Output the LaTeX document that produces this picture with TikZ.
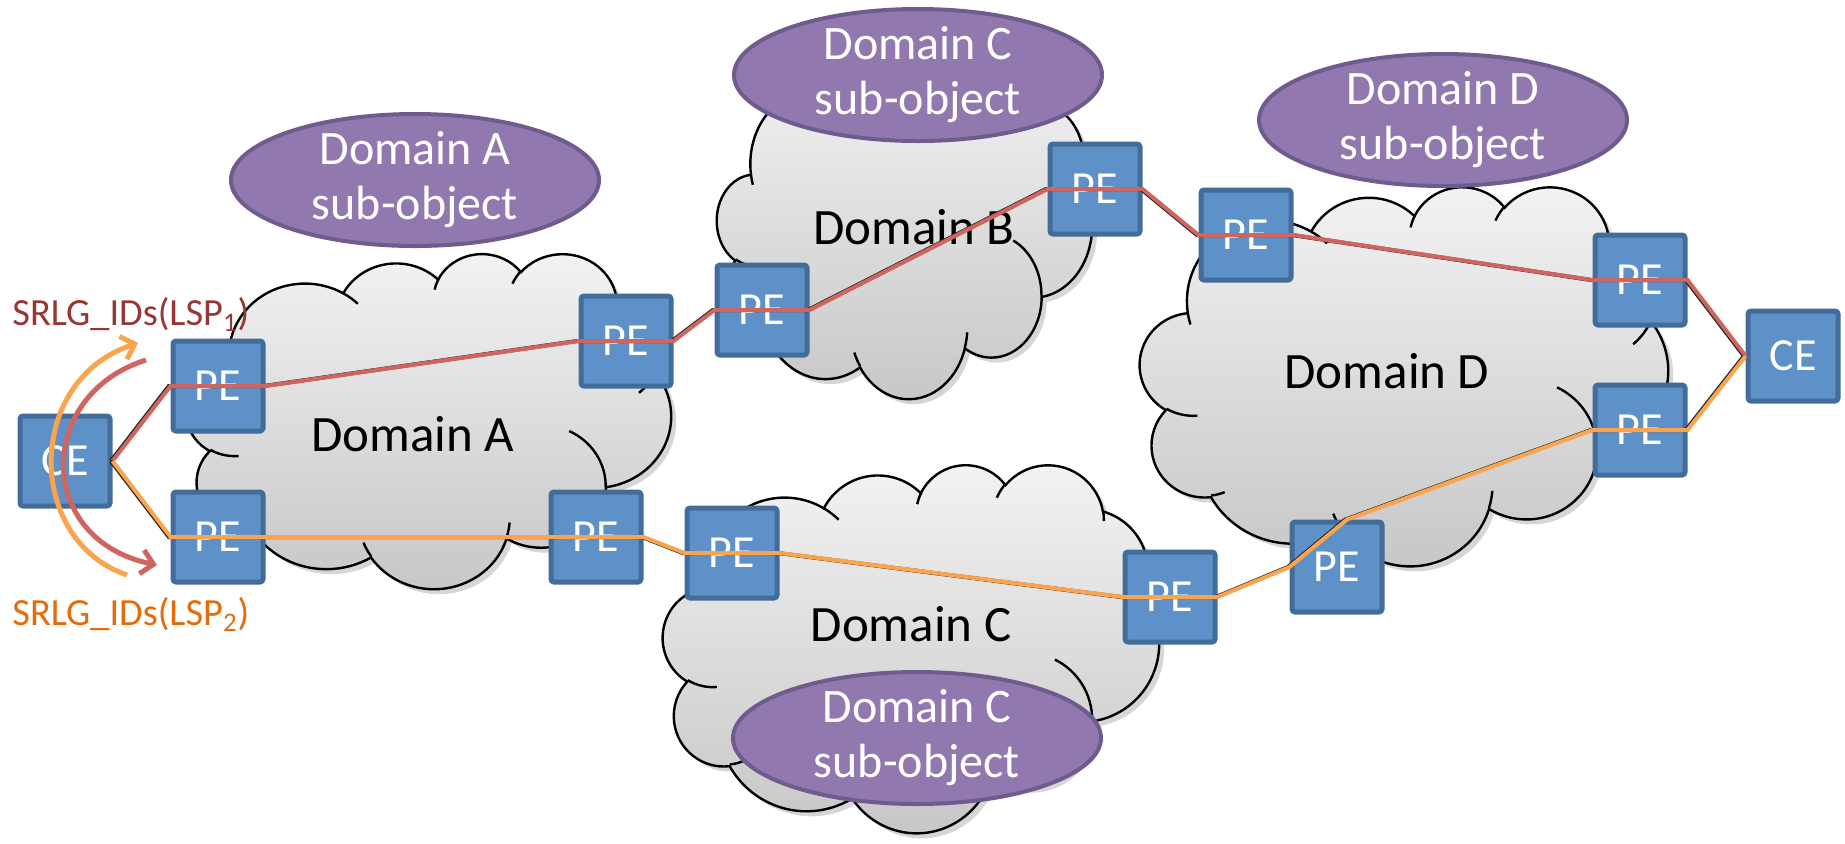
\documentclass[tikz,border=0pt]{standalone}
\usepackage{fontspec}
\setmainfont{Carlito}
\usetikzlibrary{shapes.geometric,arrows.meta}

\definecolor{pefill}{RGB}{93,145,199}
\definecolor{peborder}{RGB}{66,108,153}
\definecolor{ellfill}{RGB}{145,121,176}
\definecolor{ellborder}{RGB}{112,91,142}
\definecolor{redline}{RGB}{207,101,94}
\definecolor{orangeline}{RGB}{250,164,78}
\definecolor{srlgred}{RGB}{150,55,52}
\definecolor{srlgorange}{RGB}{228,108,10}
\definecolor{cloudtop}{RGB}{243,243,243}
\definecolor{cloudbot}{RGB}{198,198,198}

% visual (DrawingML) angle -> parametric angle, continuous
\pgfmathdeclarefunction{vang}{3}{\pgfmathparse{#1+mod(atan2(#2*sin(#1),#3*cos(#1))-(#1)+540,360)-180}}
\newcommand\carc[4]{arc[start angle={vang(#3,#1,#2)},end angle={vang(#3+#4,#1,#2)},x radius=#1,y radius=#2]}

\newcommand\cloudpath{(39.00,143.70)
 \carc{67.53}{91.90}{-190.4875}{123.7805}
 \carc{53.33}{72.67}{-144.1024}{89.9452}
 \carc{43.65}{59.45}{-145.8079}{99.7230}
 \carc{48.57}{65.95}{-130.9861}{117.2417}
 \carc{53.33}{72.73}{-78.7089}{109.0269}
 \carc{67.75}{92.20}{-46.2673}{130.2690}
 \carc{57.85}{78.67}{0.6250}{114.0333}
 \carc{67.52}{92.15}{22.4516}{115.1726}
 \carc{77.20}{105.43}{66.2426}{75.7110}
 \carc{43.60}{59.18}{-274.9421}{146.7356}
 \carc{43.45}{59.45}{-246.8285}{152.5189}
 -- cycle}
\newcommand\cloudinner{
 (46.93,261.77) \carc{43.45}{59.45}{86.742}{26.4295}
 (69.28,348.99) \carc{43.60}{59.18}{73.6105}{11.4475}
 (164.78,390.90) \carc{67.52}{92.15}{137.6242}{14.0811}
 (288.27,347.51) \carc{67.52}{92.15}{6.4533}{15.9984}
 (341.29,229.54) \carc{57.85}{78.67}{-70.2924}{70.9174}
 (417.98,153.54) \carc{53.33}{72.73}{30.3180}{27.7515}
 (383.24,54.26) \carc{48.57}{65.95}{-13.7443}{14.8589}
 (290.78,39.52) \carc{48.57}{65.95}{-149.1815}{18.1954}
 (221.41,47.20) \carc{43.65}{59.45}{-163.4943}{17.6864}
 (140.00,51.92) \carc{67.53}{91.90}{-66.7070}{12.3194}
 (41.27,157.89) \carc{67.53}{91.90}{157.6544}{11.8582}}

\newcommand\drawcloud[4]{%
 \begin{scope}[shift={(#1+5,#2+5)},xscale=#3/432,yscale=#4/432]
  \fill[black,opacity=0.16] \cloudpath;
 \end{scope}
 \begin{scope}[shift={(#1,#2)},xscale=#3/432,yscale=#4/432]
  \shadedraw[top color=cloudtop,bottom color=cloudbot,draw=black,line width=1.2pt] \cloudpath;
  \draw[line width=1.2pt] \cloudinner;
 \end{scope}}

\tikzset{
 pebox/.style={draw=peborder,fill=pefill,line width=2.5pt,rounded corners=1.5pt,
   minimum width=45pt,minimum height=45pt,inner sep=0pt,text=white,
   font=\fontsize{23}{23}\selectfont},
 subell/.style={ellipse,draw=ellborder,fill=ellfill,line width=2pt,
   minimum width=184pt,minimum height=66pt,inner sep=0pt},
 subtxt/.style={text=white,align=center,inner sep=0pt,
   font=\fontsize{24}{27.5}\selectfont},
 domlabel/.style={inner sep=0pt,font=\fontsize{25.5}{30}\selectfont},
 srlg/.style={inner sep=0pt,font=\fontsize{19.2}{22}\selectfont},
 lspR/.style={draw=redline,line width=2pt,
   preaction={draw=black!85,line width=2pt,transform canvas={xshift=-0.8pt}}},
 lspO/.style={draw=orangeline,line width=2pt,
   preaction={draw=black!85,line width=2pt,transform canvas={xshift=-0.8pt}}},
 arcO/.style={draw=orangeline,line width=2.5pt,-{Straight Barb[length=6pt,width=12pt]}},
 arcR/.style={draw=redline,line width=2.5pt,-{Straight Barb[length=6pt,width=12pt]}},
}

\begin{document}
\begin{tikzpicture}[x=0.5pt,y=-0.5pt]
\fill[white] (0,0) rectangle (1845,843);
\useasboundingbox (0,0) rectangle (1845,843);

% clouds
\drawcloud{186}{253}{485}{335}
\drawcloud{717}{62}{375}{336}
\drawcloud{663}{464}{496}{368}
\drawcloud{1140}{186}{528}{379}

% domain labels
\node[domlabel,anchor=base] (labA) at (413,451) {Domain A};
\node[domlabel,anchor=base] (labB) at (914,244) {Domain B};
\node[domlabel,anchor=base] (labC) at (911,641) {Domain C};
\node[domlabel,anchor=base] (labD) at (1387,388) {Domain D};

% sub-object ellipses
\node[subell] (eA) at (415,180) {};
\node[subtxt] (tA) at (eA) {Domain A\\sub-object};
\node[subell] (eCt) at (918,75) {};
\node[subtxt] (tCt) at (eCt) {Domain C\\sub-object};
\node[subell] (eD) at (1443,120) {};
\node[subtxt] (tD) at (eD) {Domain D\\sub-object};
\node[subell] (eCb) at (917,738) {};
\node[subtxt] (tCb) at (eCb) {Domain C\\sub-object};

% PE / CE boxes
\node[pebox] (CEL) at (65,461) {CE};
\node[pebox] (A1) at (218,386) {PE};
\node[pebox] (A2) at (218,537) {PE};
\node[pebox] (A3) at (626,341) {PE};
\node[pebox] (A4) at (596,537) {PE};
\node[pebox] (B1) at (762,310) {PE};
\node[pebox] (B2) at (1095,189) {PE};
\node[pebox] (D1) at (1246,235) {PE};
\node[pebox] (D2) at (1640,280) {PE};
\node[pebox] (CER) at (1793,356) {CE};
\node[pebox] (D3) at (1640,430) {PE};
\node[pebox] (C1) at (732,553) {PE};
\node[pebox] (C2) at (1170,597) {PE};
\node[pebox] (D4) at (1337,567) {PE};
\coordinate (kink) at ([xshift=5pt]D4.north);

% LSP paths
\draw[lspR] (CEL.east) -- (A1.west) -- (A1.east) -- (A3.west) -- (A3.east)
  -- (B1.west) -- (B1.east) -- (B2.west) -- (B2.east) -- (D1.west) -- (D1.east)
  -- (D2.west) -- (D2.east) -- (CER.west);
\draw[lspO] (CEL.east) -- (A2.west) -- (A2.east) -- (A4.west) -- (A4.east)
  -- (C1.west) -- (C1.east) -- (C2.west) -- (C2.east) -- (D4.west) -- (kink)
  -- (D3.west) -- (D3.east) -- (CER.west);

% SRLG arrows
\coordinate (o1) at (127,575);
\coordinate (o2) at (138,343);
\coordinate (r1) at (146,360);
\coordinate (r2) at (157,565);
\draw[arcO] (o1) .. controls (25,540) and (25,380) .. (o2);
\draw[arcR] (r1) .. controls (35,395) and (35,540) .. (r2);

\node[srlg,text=srlgred,anchor=base west] (s1) at (12,325) {SRLG\_IDs(LSP\textsubscript{1})};
\node[srlg,text=srlgorange,anchor=base west] (s2) at (12,625) {SRLG\_IDs(LSP\textsubscript{2})};
\end{tikzpicture}
\end{document}
